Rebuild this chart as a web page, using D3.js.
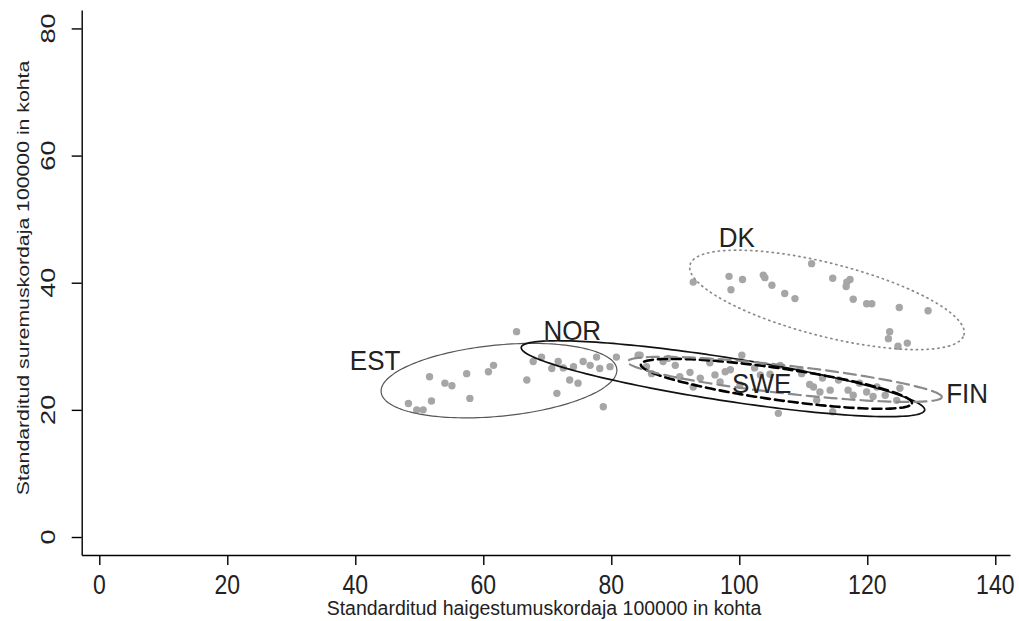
<!DOCTYPE html>
<html>
<head>
<meta charset="utf-8">
<script src="https://cdn.jsdelivr.net/npm/d3@7"></script>
<style>
  html, body { margin: 0; padding: 0; background: #fff; }
  svg { display: block; font-family: "Liberation Sans", Arial, sans-serif; }
</style>
</head>
<body>
<svg id="chart" width="1019" height="621"></svg>
<script>
// tick values
const xTicks = [0, 20, 40, 60, 80, 100, 120, 140];
const yTicks = [0, 20, 40, 60, 80];

// observations per country [incidence, mortality]
const estPoints = [
  [48.3, 21.0], [49.6, 20.0], [50.6, 20.0], [51.9, 21.4], [51.6, 25.2],
  [54.0, 24.2], [55.1, 23.8], [57.4, 25.7], [60.8, 26.0], [61.6, 27.0],
  [57.9, 21.8], [66.8, 24.7], [71.5, 22.6], [65.2, 32.3], [78.75, 20.5]
];
const norPoints = [
  [67.8, 27.6], [69.1, 28.3], [70.7, 26.5], [71.7, 27.6], [72.5, 26.6],
  [74.1, 26.8], [73.5, 24.7], [74.8, 24.2], [75.6, 27.6], [76.7, 27.0],
  [77.7, 28.3], [78.2, 26.5], [79.8, 26.8], [80.8, 28.3], [84.2, 28.6],
  [85.5, 26.8], [86.3, 25.7], [88.1, 27.6], [90.7, 25.2], [92.8, 23.6]
];
const swePoints = [
  [93.9, 25.0], [96.2, 25.5], [97.8, 26.0], [97.0, 24.4], [100.1, 23.9],
  [103.3, 25.5], [109.75, 25.7], [111.6, 23.6], [112.6, 22.8], [114.2, 23.1],
  [117.0, 23.1], [117.8, 22.3], [119.9, 22.8], [120.9, 22.1], [122.8, 22.3],
  [124.6, 21.5], [112.1, 21.5], [106.1, 19.45], [114.6, 19.7]
];
const finPoints = [
  [84.5, 28.6], [88.9, 28.1], [90.0, 27.0], [92.3, 25.9], [95.4, 27.4],
  [98.6, 26.3], [100.4, 28.6], [102.4, 26.6], [104.8, 25.6], [106.4, 27.0],
  [109.5, 26.3], [111.0, 24.0], [113.0, 25.0], [115.5, 24.7], [118.8, 24.2],
  [121.5, 23.6], [125.1, 23.4]
];
const dkPoints = [
  [92.8, 40.1], [98.4, 41.0], [100.5, 40.5], [98.7, 38.9], [103.75, 41.2],
  [104.0, 40.8], [105.1, 39.6], [107.1, 38.3], [108.7, 37.5], [111.3, 43.0],
  [114.6, 40.7], [116.8, 40.1], [117.3, 40.5], [116.7, 39.4], [117.8, 37.4],
  [119.9, 36.7], [120.7, 36.7], [125.0, 36.1], [129.5, 35.6], [123.5, 32.3],
  [123.3, 31.2], [124.8, 30.0], [126.25, 30.5]
];

// confidence ellipses: centre, semi-axes, angle (degrees)
const countries = ["EST", "NOR", "SWE", "FIN", "DK"];
const ellipseCx = [62.45, 97.45, 105.8, 107.1, 113.7];
const ellipseCy = [24.6, 24.9, 24.1, 24.8, 37.3];
const ellipseA = [18.5, 31.9, 21.4, 24.7, 22.1];
const ellipseB = [5.6, 3.4, 2.5, 2.2, 5.75];
const ellipseAngle = [5.6, -8.9, -8.2, -6.5, -14.4];

// country label anchors
const labelX = [43.1, 73.9, 103.5, 135.6, 99.6];
const labelY = [26.26, 30.97, 22.6, 21.1, 45.6];

const allPoints = [estPoints, norPoints, swePoints, finPoints, dkPoints];

const svg = d3.select("#chart");

const x = d3.scaleLinear().domain([-2.75, 142.3]).range([81.7, 1010]);
const y = d3.scaleLinear().domain([-2.83, 82.9]).range([555, 10]);

// axes
svg.append("g")
  .attr("transform", "translate(0,555)")
  .call(d3.axisBottom(x).tickValues(xTicks).tickSize(10).tickSizeOuter(0).tickFormat(""));
svg.append("g")
  .attr("transform", "translate(81.7,0)")
  .call(d3.axisLeft(y).tickValues(yTicks).tickSize(10).tickSizeOuter(0).tickFormat(""));
svg.selectAll(".domain, .tick line").attr("stroke", "#000").attr("stroke-width", 1.4);

svg.append("g")
  .selectAll("text")
  .data(xTicks)
  .join("text")
  .attr("transform", (d) => `translate(${x(d)},594) scale(1,1.17)`)
  .attr("text-anchor", "middle")
  .attr("font-size", 23)
  .attr("fill", "#222")
  .text((d) => d);

svg.append("g")
  .selectAll("text")
  .data(yTicks)
  .join("text")
  .attr("transform", (d) => `translate(55,${y(d)}) scale(1,1.29) rotate(-90)`)
  .attr("text-anchor", "middle")
  .attr("font-size", 21)
  .attr("fill", "#222")
  .text((d) => d);

svg.append("text")
  .attr("x", 544)
  .attr("y", 615)
  .attr("text-anchor", "middle")
  .attr("font-size", 19.5)
  .attr("fill", "#222")
  .text("Standarditud haigestumuskordaja 100000 in kohta");

svg.append("text")
  .attr("transform", "translate(29,278) scale(1,1.25) rotate(-90)")
  .attr("text-anchor", "middle")
  .attr("font-size", 17)
  .attr("fill", "#222")
  .text("Standarditud suremuskordaja 100000 in kohta");

// points
svg.append("g")
  .selectAll("circle")
  .data(allPoints.flat())
  .join("circle")
  .attr("cx", (d) => x(d[0]))
  .attr("cy", (d) => y(d[1]))
  .attr("r", 3.7)
  .attr("fill", "#a6a6a6");

// ellipses
const ellipseStyle = [
  { stroke: "#555", width: 1.2, dash: null },
  { stroke: "#111", width: 1.7, dash: null },
  { stroke: "#000", width: 2.6, dash: "9,5" },
  { stroke: "#8a8a8a", width: 2.2, dash: "12,6" },
  { stroke: "#8a8a8a", width: 1.7, dash: "1.2,4.2" }
];

const line = d3.line().curve(d3.curveLinearClosed);

countries.forEach((c, i) => {
  const th = (ellipseAngle[i] * Math.PI) / 180;
  const pts = d3.range(0, 360, 2).map((deg) => {
    const t = (deg * Math.PI) / 180;
    const ex = ellipseA[i] * Math.cos(t);
    const ey = ellipseB[i] * Math.sin(t);
    return [
      x(ellipseCx[i] + ex * Math.cos(th) - ey * Math.sin(th)),
      y(ellipseCy[i] + ex * Math.sin(th) + ey * Math.cos(th))
    ];
  });
  const s = ellipseStyle[i];
  svg.append("path")
    .attr("d", line(pts))
    .attr("fill", "none")
    .attr("stroke", s.stroke)
    .attr("stroke-width", s.width)
    .attr("stroke-linecap", "round")
    .attr("stroke-dasharray", s.dash);
});

// country labels
svg.append("g")
  .selectAll("text")
  .data(countries)
  .join("text")
  .attr("transform", (d, i) => `translate(${x(labelX[i])},${y(labelY[i])}) scale(1,1.08)`)
  .attr("text-anchor", "middle")
  .attr("font-size", 26)
  .attr("fill", "#222")
  .text((d) => d);
</script>
</body>
</html>
